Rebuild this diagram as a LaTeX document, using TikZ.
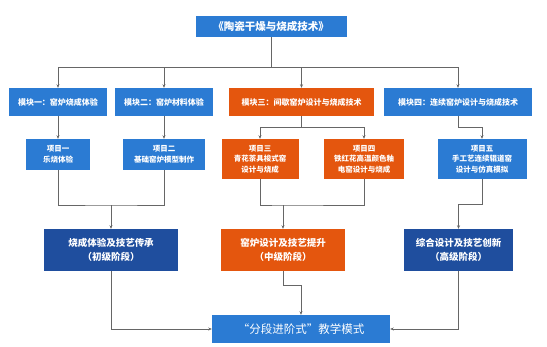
\documentclass[tikz,border=0pt]{standalone}
\usepackage{fontspec}
\setmainfont{Noto Sans CJK SC}
\usetikzlibrary{arrows.meta}
\definecolor{kilnblue}{HTML}{2B7BD3}
\definecolor{kilnnavy}{HTML}{1F4E9E}
\definecolor{kilnorange}{HTML}{E4560E}
\begin{document}
\begin{tikzpicture}[x=1pt, y=-1pt,
    box/.style = {rectangle, text = white, align = center, inner sep = 1pt},
    head/.style = {box, fill = kilnblue, minimum width = 151pt, minimum height = 21pt, font = \bfseries\fontsize{10.5}{12}\selectfont},
    module/.style = {box, minimum height = 28pt, font = \bfseries\fontsize{8}{10}\selectfont},
    project/.style = {box, font = \bfseries\fontsize{7.5}{10.5}\selectfont},
    stage/.style = {box, minimum height = 42pt, font = \bfseries\fontsize{9.5}{14}\selectfont},
    link/.style = {draw = black!60, line width = 0.6pt},
    go/.style = {link, -{Stealth[length = 3.5pt, width = 3pt]}}]
    \fill[white] (0,0) rectangle (547,346);
    \node [head] (title) at (271,26.5) {《陶瓷干燥与烧成技术》};
    \node [module, fill = kilnblue, minimum width = 98pt] (m1) at (58,102) {模块一：窑炉烧成体验};
    \node [module, fill = kilnblue, minimum width = 98pt] (m2) at (164,102) {模块二：窑炉材料体验};
    \node [module, fill = kilnorange, minimum width = 145pt] (m3) at (301.5,102) {模块三：间歇窑炉设计与烧成技术};
    \node [module, fill = kilnblue, minimum width = 148pt] (m4) at (458,102) {模块四：连续窑炉设计与烧成技术};
    \node [project, fill = kilnblue, minimum width = 64pt, minimum height = 31pt] (p1) at (58,154.5) {项目一\\乐烧体验};
    \node [project, fill = kilnblue, minimum width = 82pt, minimum height = 31pt] (p2) at (164,154.5) {项目二\\基础窑炉模型制作};
    \node [project, fill = kilnorange, minimum width = 77pt, minimum height = 40pt] (p3) at (260,159) {项目三\\青花茶具梭式窑\\设计与烧成};
    \node [project, fill = kilnorange, minimum width = 80pt, minimum height = 40pt] (p4) at (364,159) {项目四\\铁红花高温颜色釉\\电窑设计与烧成};
    \node [project, fill = kilnblue, minimum width = 89pt, minimum height = 40pt] (p5) at (482,159) {项目五\\手工艺连续辊道窑\\设计与仿真模拟};
    \node [stage, fill = kilnnavy, minimum width = 134pt] (s1) at (111,250) {烧成体验及技艺传承\\（初级阶段）};
    \node [stage, fill = kilnorange, minimum width = 124pt] (s2) at (283,250) {窑炉设计及技艺提升\\（中级阶段）};
    \node [stage, fill = kilnnavy, minimum width = 109pt] (s3) at (458.5,250) {综合设计及技艺创新\\（高级阶段）};
    \node [box, fill = kilnblue, minimum width = 178pt, minimum height = 28pt, font = \fontsize{11.5}{13}\selectfont] (final) at (301,329) {“分段进阶式”教学模式};
    \coordinate (top) at (271,67);
    \draw [link] (title) -- (top);
    \foreach \m in {m1, m2, m3, m4}
        \draw [go] (top) -| (\m);
    \draw [go] (m1) -- (p1);
    \draw [go] (m2) -- (p2);
    \draw [go] (m3.south) -- ++(0,11) -| (p3);
    \draw [go] (m3.south) -- ++(0,11) -| (p4);
    \draw [go] (m4.south) -- ++(0,11) -| (p5);
    \coordinate (j1) at (111,205);
    \coordinate (j2) at (283,205);
    \draw [link] (p1) |- (j1) -| (p2);
    \draw [go] (j1) -- (s1);
    \draw [link] (p3) |- (j2) -| (p4);
    \draw [go] (j2) -- (s2);
    \draw [go] (p5.south) -- ++(0,25) -| (s3);
    \draw [go] (s1) |- (final);
    \draw [go] (s3) |- (final);
    \draw [go] (s2.south) -- ++(0,14) -| (final);
\end{tikzpicture}
\end{document}
